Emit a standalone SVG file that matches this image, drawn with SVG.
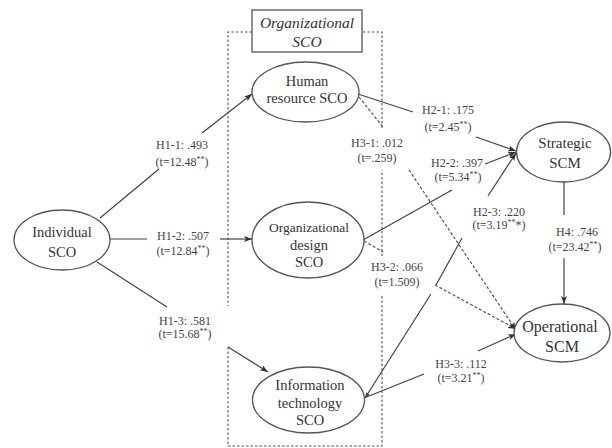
<svg xmlns="http://www.w3.org/2000/svg" width="612" height="448" viewBox="0 0 612 448">
<defs>
<marker id="arr" markerWidth="9" markerHeight="7" refX="8" refY="3.5" orient="auto" markerUnits="userSpaceOnUse">
<path d="M0,0.5 L8,3.5 L0,6.5 L2,3.5 z" fill="#333"/>
</marker>
<marker id="arrs" markerWidth="6" markerHeight="5" refX="5.5" refY="2.5" orient="auto" markerUnits="userSpaceOnUse">
<path d="M0,0.5 L5.5,2.5 L0,4.5 z" fill="#444"/>
</marker>
<style>
.bg{fill:#fff}
.ell{fill:#fff;stroke:#555;stroke-width:1.3}
.nt{font-family:"Liberation Serif","Times New Roman",serif;font-size:14.5px;fill:#333;text-anchor:middle}
.lt{font-family:"Liberation Serif","Times New Roman",serif;font-size:12px;fill:#444;text-anchor:middle}
.sup{font-size:8px}
.ttl{font-family:"Liberation Serif","Times New Roman",serif;font-size:15.5px;font-style:italic;fill:#333;text-anchor:middle}
.c{stroke:#444;stroke-width:1.2;fill:none}
.d{stroke:#555;stroke-width:1.2;fill:none;stroke-dasharray:3,2}
.box{stroke:#555;stroke-width:1.1;fill:none;stroke-dasharray:2.5,2}
</style>
</defs>
<rect class="bg" x="0" y="0" width="612" height="448"/>

<g id="org-group">
<path class="box" d="M252,32 H228 V306 M228,347 V446 H382 V294 M382,256 V170 M382,128 V32 H362"/>
<rect x="252" y="10" width="110" height="42" fill="#fff" stroke="#555" stroke-width="1.3"/>
<text class="ttl" x="307" y="28">Organizational</text>
<text class="ttl" x="307" y="47">SCO</text>
</g>

<g id="connectors">
<line class="c" x1="100" y1="218" x2="159" y2="169"/>
<line class="c" x1="202" y1="133" x2="252" y2="94" marker-end="url(#arr)"/>
<line class="c" x1="110" y1="239" x2="147" y2="239"/>
<line class="c" x1="220" y1="239" x2="252" y2="239" marker-end="url(#arr)"/>
<line class="c" x1="97" y1="262" x2="167" y2="307"/>
<line class="c" x1="228" y1="347" x2="268" y2="372" marker-end="url(#arr)"/>
<line class="c" x1="358" y1="94" x2="413" y2="112"/>
<line class="c" x1="476" y1="137" x2="516" y2="151" marker-end="url(#arr)"/>
<line class="c" x1="363" y1="240" x2="452" y2="190"/>
<line class="c" x1="485" y1="164" x2="516" y2="152" marker-end="url(#arr)"/>
<line class="c" x1="431" y1="294" x2="365" y2="398" marker-end="url(#arrs)"/>
<line class="c" x1="436" y1="285" x2="462" y2="238"/>
<line class="c" x1="488" y1="196" x2="516" y2="153" marker-end="url(#arr)"/>
<line class="d" x1="359" y1="97" x2="383" y2="127"/>
<line class="d" x1="409" y1="170" x2="516" y2="330" marker-end="url(#arr)"/>
<line class="d" x1="364" y1="241" x2="383" y2="252"/>
<line class="d" x1="435" y1="285" x2="516" y2="329" marker-end="url(#arr)"/>
<line class="c" x1="364" y1="398" x2="424" y2="374"/>
<line class="c" x1="478" y1="351" x2="516" y2="334" marker-end="url(#arr)"/>
<line class="c" x1="564" y1="182" x2="564" y2="215"/>
<line class="c" x1="564" y1="258" x2="564" y2="304" marker-end="url(#arr)"/>
</g>

<g id="labels">
<text class="lt" x="182" y="149">H1-1: .493</text>
<text class="lt" x="182" y="166">(t=12.48<tspan class="sup" dy="-4">**</tspan><tspan dy="4">)</tspan></text>
<text class="lt" x="183" y="240">H1-2: .507</text>
<text class="lt" x="183" y="255">(t=12.84<tspan class="sup" dy="-4">**</tspan><tspan dy="4">)</tspan></text>
<text class="lt" x="185" y="325">H1-3: .581</text>
<text class="lt" x="185" y="338">(t=15.68<tspan class="sup" dy="-4">**</tspan><tspan dy="4">)</tspan></text>
<text class="lt" x="448" y="114">H2-1: .175</text>
<text class="lt" x="448" y="131">(t=2.45<tspan class="sup" dy="-4">**</tspan><tspan dy="4">)</tspan></text>
<text class="lt" x="377" y="147">H3-1: .012</text>
<text class="lt" x="377" y="162">(t=.259)</text>
<text class="lt" x="457" y="167">H2-2: .397</text>
<text class="lt" x="458" y="181">(t=5.34<tspan class="sup" dy="-4">**</tspan><tspan dy="4">)</tspan></text>
<text class="lt" x="499" y="216">H2-3: .220</text>
<text class="lt" x="499" y="229">(t=3.19<tspan class="sup" dy="-4">**</tspan><tspan dy="4">*)</tspan></text>
<text class="lt" x="397" y="271">H3-2: .066</text>
<text class="lt" x="397" y="286">(t=1.509)</text>
<text class="lt" x="461" y="368">H3-3: .112</text>
<text class="lt" x="461" y="382">(t=3.21<tspan class="sup" dy="-4">**</tspan><tspan dy="4">)</tspan></text>
<text class="lt" x="577" y="236">H4: .746</text>
<text class="lt" x="575" y="251">(t=23.42<tspan class="sup" dy="-4">**</tspan><tspan dy="4">)</tspan></text>
</g>

<g id="individual-sco">
<ellipse class="ell" cx="62" cy="240" rx="48" ry="30"/>
<text class="nt" x="62" y="237">Individual</text>
<text class="nt" x="62" y="257">SCO</text>
</g>

<g id="human-resource-sco">
<ellipse class="ell" cx="305.5" cy="92" rx="53.5" ry="30"/>
<text class="nt" x="307" y="86">Human</text>
<text class="nt" x="307" y="103">resource SCO</text>
</g>

<g id="org-design-sco">
<ellipse class="ell" cx="308" cy="240" rx="56" ry="38"/>
<text class="nt" x="309" y="232" style="font-size:13.5px">Organizational</text>
<text class="nt" x="309" y="250">design</text>
<text class="nt" x="309" y="267">SCO</text>
</g>

<g id="it-sco">
<ellipse class="ell" cx="308.5" cy="400" rx="56" ry="33"/>
<text class="nt" x="310" y="390">Information</text>
<text class="nt" x="310" y="408">technology</text>
<text class="nt" x="310" y="425">SCO</text>
</g>

<g id="strategic-scm">
<ellipse class="ell" cx="563.5" cy="152" rx="47" ry="30"/>
<text class="nt" x="565" y="148" style="font-size:15px">Strategic</text>
<text class="nt" x="565" y="168" style="font-size:15px">SCM</text>
</g>

<g id="operational-scm">
<ellipse class="ell" cx="562" cy="333" rx="48" ry="29"/>
<text class="nt" x="560" y="332" style="font-size:16px">Operational</text>
<text class="nt" x="562" y="352" style="font-size:16px">SCM</text>
</g>
</svg>
